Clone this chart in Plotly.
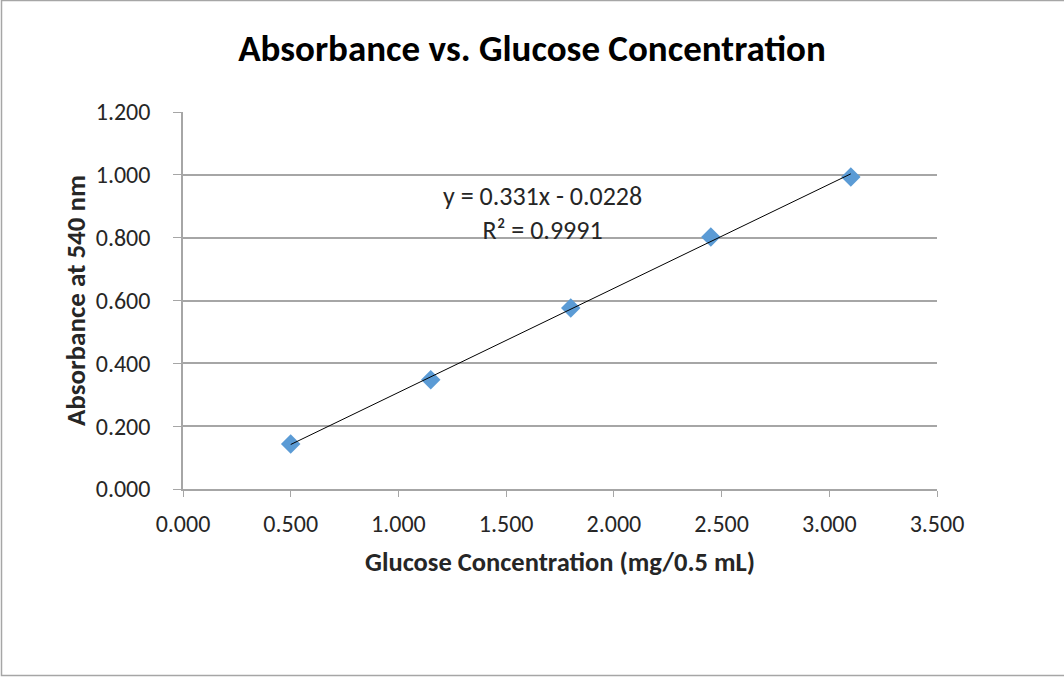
import numpy as np
import plotly.graph_objects as go

# ── Data ──────────────────────────────────────────────────────────────────────
glucose_mg = [0.500, 1.150, 1.800, 2.450, 3.100]
absorbance = [0.143, 0.348, 0.576, 0.802, 0.993]
x_ticks = [0.0, 0.5, 1.0, 1.5, 2.0, 2.5, 3.0, 3.5]
y_ticks = [0.0, 0.2, 0.4, 0.6, 0.8, 1.0, 1.2]
eq_text = "y = 0.331x - 0.0228<br>R² = 0.9991"

# ── Style ─────────────────────────────────────────────────────────────────────
FONT = "Carlito, Lato, 'Open Sans', sans-serif"
MARKER_COLOR = "#5b9bd5"
GRID_COLOR = "#a6a6a6"
TEXT_COLOR = "#262626"
W, H = 1064, 677
ML, MR, MT, MB = 183, 127, 112, 188

# linear trendline through the data
slope, intercept = np.polyfit(glucose_mg, absorbance, 1)
trend_x = [min(glucose_mg), max(glucose_mg)]
trend_y = [slope * v + intercept for v in trend_x]

fig = go.Figure()

fig.add_trace(go.Scatter(
    x=glucose_mg, y=absorbance,
    mode="markers",
    marker=dict(symbol="diamond", size=15, color=MARKER_COLOR,
                line=dict(width=0)),
    showlegend=False,
))

fig.add_trace(go.Scatter(
    x=trend_x, y=trend_y,
    mode="lines",
    line=dict(color="#000000", width=1),
    showlegend=False,
))

fig.add_annotation(
    x=1.671, y=0.878, xref="x", yref="y",
    text=eq_text, showarrow=False,
    font=dict(family=FONT, size=26, color=TEXT_COLOR),
    align="center",
)

# outer chart border (right edge falls off the page, as in the original)
pw, ph = W - ML - MR, H - MT - MB
fig.add_shape(
    type="rect", xref="paper", yref="paper",
    x0=(1.5 - ML) / pw, x1=(W + 10 - ML) / pw,
    y0=-(MB - 1.5) / ph, y1=(H - MB - 0.5) / ph,
    line=dict(color="#a6a6a6", width=1.5),
)

fig.update_layout(
    width=W, height=H,
    paper_bgcolor="white", plot_bgcolor="white",
    margin=dict(l=ML, r=MR, t=MT, b=MB),
    font=dict(family=FONT, color=TEXT_COLOR),
    title=dict(
        text="<b>Absorbance vs. Glucose Concentration</b>",
        x=0.5, xanchor="center", y=0.929, yanchor="middle",
        font=dict(family=FONT, size=37, color="#000000"),
    ),
    xaxis=dict(
        range=[0, 3.5], tickvals=x_ticks, tickformat=".3f",
        showgrid=False, zeroline=False,
        showline=True, linecolor=GRID_COLOR, linewidth=1.5,
        ticks="outside", ticklen=6, tickcolor=GRID_COLOR,
        ticklabelstandoff=6,
        tickfont=dict(family=FONT, size=24, color=TEXT_COLOR),
        title=dict(text="<b>Glucose Concentration (mg/0.5 mL)</b>",
                   font=dict(family=FONT, size=26.5, color=TEXT_COLOR),
                   standoff=16),
    ),
    yaxis=dict(
        range=[0, 1.2], tickvals=y_ticks, tickformat=".3f",
        showgrid=True, gridcolor=GRID_COLOR, gridwidth=1.5,
        zeroline=False,
        showline=True, linecolor=GRID_COLOR, linewidth=1.5,
        ticks="outside", ticklen=8, tickcolor=GRID_COLOR,
        ticklabelstandoff=18,
        tickfont=dict(family=FONT, size=24, color=TEXT_COLOR),
        title=dict(text="<b>Absorbance at 540 nm</b>",
                   font=dict(family=FONT, size=27, color=TEXT_COLOR),
                   standoff=2),
    ),
)

fig.write_html("out.html", config={"displayModeBar": False},
               post_script="document.body.style.margin='0';")
